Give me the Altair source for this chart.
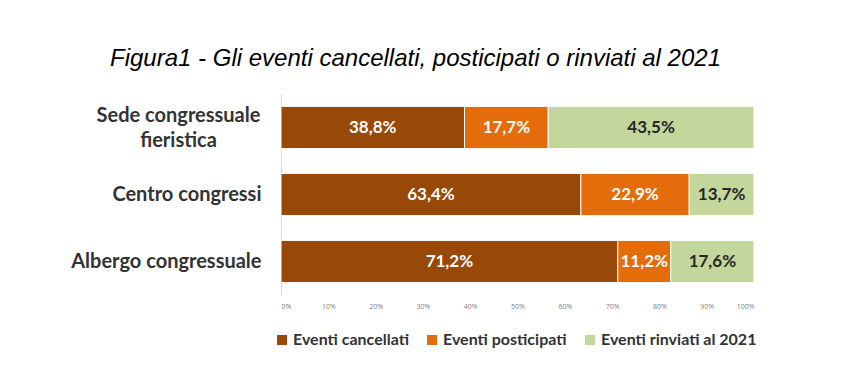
import altair as alt
import pandas as pd

categories = ["Sede congressuale|fieristica", "Centro congressi", "Albergo congressuale"]
series = ["Eventi cancellati", "Eventi posticipati", "Eventi rinviati al 2021"]
cancellati = [38.8, 63.4, 71.2]
posticipati = [17.7, 22.9, 11.2]
rinviati = [43.5, 13.7, 17.6]
colors = ["#984807", "#E46C0A", "#C3D69B"]
text_colors = ["#FFFFFF", "#FFFFFF", "#262626"]
x_ticks = [0, 10, 20, 30, 40, 50, 60, 70, 80, 90, 100]

rows = []
for s_i, (s, vals) in enumerate(zip(series, [cancellati, posticipati, rinviati])):
    for c, v in zip(categories, vals):
        rows.append({"cat": c, "serie": s, "ord": s_i, "val": v,
                     "lab": f"{v:.1f}".replace(".", ",") + "%"})
df = pd.DataFrame(rows)

multi = "indexof(datum.label, '|') >= 0"

base = alt.Chart(df).encode(
    y=alt.Y("cat:N", sort=categories,
            scale=alt.Scale(paddingInner=0.37, paddingOuter=0.185),
            axis=alt.Axis(title=None, labelExpr="split(datum.label, '|')",
                          labelFont="Lato", labelFontSize=20, labelFontWeight="bold",
                          labelColor="#333333", ticks=False,
                          domainColor="#D9D9D9", labelLineHeight=25, labelLimit=300,
                          labelAlign={"condition": {"test": multi, "value": "center"}, "value": "right"},
                          labelPadding={"condition": {"test": multi, "value": 103}, "value": 20},
                          labelOffset={"condition": {"test": multi, "value": -12}, "value": 0})),
    x=alt.X("val:Q", stack="zero",
            scale=alt.Scale(domain=[0, 100], nice=False),
            axis=alt.Axis(title=None, values=x_ticks, labelExpr="datum.value + '%'",
                          grid=False, domain=False, ticks=False, labelFontSize=7,
                          labelColor="#808080", labelFont="Open Sans", labelPadding=7)),
    order=alt.Order("ord:Q"),
)

bars = base.mark_bar(stroke="white", strokeWidth=1).encode(
    color=alt.Color("serie:N", sort=series,
                    scale=alt.Scale(domain=series, range=colors),
                    legend=alt.Legend(title=None, orient="none", direction="horizontal",
                                      legendX=-7, legendY=238, symbolType="square",
                                      symbolSize=100, symbolStrokeWidth=0,
                                      labelFont="Lato", labelFontSize=16, labelOffset=3,
                                      labelFontWeight="bold", labelColor="#333333",
                                      columnPadding=15, labelLimit=300))
)

texts = base.mark_text(font="Lato", fontSize=17, fontWeight="bold").encode(
    x=alt.X("mid:Q"),
    text="lab:N",
    color=alt.Color("serie:N", scale=alt.Scale(domain=series, range=text_colors), legend=None),
).transform_stack(
    stack="val", groupby=["cat"], sort=[alt.SortField("ord")], as_=["x0", "x1"]
).transform_calculate(mid="(datum.x0 + datum.x1) / 2")

chart = alt.layer(bars, texts).resolve_scale(color="independent").properties(
    width=473, height=201,
    title=alt.TitleParams("Figura1 - Gli eventi cancellati, posticipati o rinviati al 2021",
                          font="Liberation Sans", fontSize=24, fontStyle="italic",
                          fontWeight="normal", color="#000000", anchor="middle",
                          dx=-102, offset=23),
    autosize="none",
    padding={"left": 273, "top": 86, "right": 70, "bottom": 80},
).configure_view(stroke=None)

chart.save("out.html", embed_options={"renderer": "svg", "actions": False})
